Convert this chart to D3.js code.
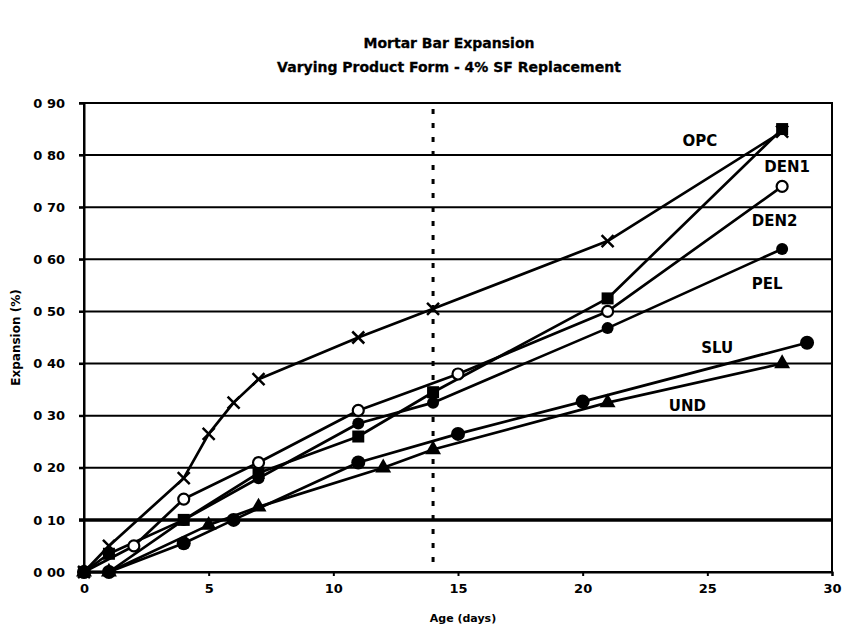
<!DOCTYPE html>
<html>
<head>
<meta charset="utf-8">
<script src="https://cdn.jsdelivr.net/npm/d3@7"></script>
<style>
  html, body { margin: 0; padding: 0; background: #fff; }
  svg text { font-family: "DejaVu Sans", "Liberation Sans", Arial, sans-serif; font-weight: bold; fill: #000; }
</style>
</head>
<body>
<svg id="chart" width="845" height="634"></svg>
<script>
// Mortar bar expansion, age in days vs expansion in %
const opcAge  = [0, 1, 4, 5, 6, 7, 11, 14, 21, 28];
const opcExp  = [0, 0.05, 0.18, 0.265, 0.325, 0.37, 0.45, 0.505, 0.635, 0.845];

const den1Age = [0, 1, 4, 7, 11, 14, 21, 28];
const den1Exp = [0, 0.035, 0.10, 0.19, 0.26, 0.345, 0.525, 0.85];

const den2Age = [0, 2, 4, 7, 11, 15, 21, 28];
const den2Exp = [0, 0.05, 0.14, 0.21, 0.31, 0.38, 0.50, 0.74];

const pelAge  = [0, 1, 4, 7, 11, 14, 21, 28];
const pelExp  = [0, 0, 0.10, 0.18, 0.285, 0.325, 0.468, 0.62];

const sluAge  = [0, 1, 4, 6, 11, 15, 20, 29];
const sluExp  = [0, 0, 0.055, 0.10, 0.21, 0.265, 0.327, 0.44];

const undAge  = [0, 1, 5, 7, 12, 14, 21, 28];
const undExp  = [0, 0, 0.09, 0.125, 0.20, 0.235, 0.325, 0.40];

const seriesNames   = ["OPC", "DEN1", "DEN2", "PEL", "SLU", "UND"];
const seriesMarkers = ["cross", "square", "openCircle", "dot", "bigDot", "triangle"];

// label anchor points (age, expansion) for the series names
const labelAge = [24.7, 28.2, 27.7, 27.4, 25.4, 24.2];
const labelExp = [0.826, 0.776, 0.672, 0.551, 0.428, 0.317];

const xTicks = [0, 5, 10, 15, 20, 25, 30];
const yTicks = [0, 0.1, 0.2, 0.3, 0.4, 0.5, 0.6, 0.7, 0.8, 0.9];
const yTickLabels = ["0 00", "0 10", "0 20", "0 30", "0 40", "0 50", "0 60", "0 70", "0 80", "0 90"];
const markerAge = 14;

const titleLines = ["Mortar Bar Expansion", "Varying Product Form - 4% SF Replacement"];
const xTitle = "Age (days)";
const yTitle = "Expansion (%)";

const series = [
  [opcAge, opcExp], [den1Age, den1Exp], [den2Age, den2Exp],
  [pelAge, pelExp], [sluAge, sluExp], [undAge, undExp]
].map(([a, e], i) => ({
  name: seriesNames[i],
  marker: seriesMarkers[i],
  points: a.map((d, j) => ({ x: d, y: e[j] }))
}));

const svg = d3.select("#chart");
const margin = { left: 84, right: 13, top: 103, bottom: 62 };
const W = 845, H = 634;

const x = d3.scaleLinear().domain([0, 30]).range([margin.left, W - margin.right]);
const y = d3.scaleLinear().domain([0, 0.9]).range([H - margin.bottom, margin.top]);

// title
svg.append("g").selectAll("text").data(titleLines).join("text")
  .attr("x", 449).attr("y", (d, i) => 48 + i * 24)
  .attr("text-anchor", "middle")
  .style("font-size", "14px")
  .style("stroke", "#000").style("stroke-width", 0.3)
  .text(d => d);

// horizontal grid lines
svg.append("g").selectAll("line").data(yTicks.slice(1)).join("line")
  .attr("x1", x(0) - 5).attr("x2", x(30))
  .attr("y1", d => y(d)).attr("y2", d => y(d))
  .attr("stroke", "#000")
  .attr("stroke-width", d => Math.abs(d - 0.1) < 1e-9 ? 3.5 : 2);

// plot frame
svg.append("rect")
  .attr("x", x(0)).attr("y", y(0.9))
  .attr("width", x(30) - x(0)).attr("height", y(0) - y(0.9))
  .attr("fill", "none").attr("stroke", "#000").attr("stroke-width", 2);

// y axis
const yAxis = d3.axisLeft(y).tickValues(yTicks)
  .tickFormat((d, i) => yTickLabels[i]).tickSize(5).tickPadding(14);
const gy = svg.append("g").attr("transform", `translate(${x(0)},0)`).call(yAxis);
gy.select(".domain").attr("stroke-width", 2);
gy.selectAll(".tick line").attr("stroke-width", 2);
gy.selectAll(".tick text").style("font-size", "13px")
  .style("font-family", "'DejaVu Sans', sans-serif").style("font-weight", "bold");

// x axis
const xAxis = d3.axisBottom(x).tickValues(xTicks).tickSize(4).tickPadding(8);
const gx = svg.append("g").attr("transform", `translate(0,${y(0)})`).call(xAxis);
gx.select(".domain").attr("stroke-width", 2);
gx.selectAll(".tick line").attr("stroke-width", 2);
gx.selectAll(".tick text").style("font-size", "13px")
  .style("font-family", "'DejaVu Sans', sans-serif").style("font-weight", "bold");

// axis titles
svg.append("text").attr("x", x(15.2)).attr("y", 622)
  .attr("text-anchor", "middle").style("font-size", "11px").text(xTitle);
svg.append("text")
  .attr("transform", `translate(20,${(y(0) + y(0.9)) / 2}) rotate(-90)`)
  .attr("text-anchor", "middle").style("font-size", "12px").text(yTitle);

// dotted reference line at 14 days
svg.append("line")
  .attr("x1", x(markerAge)).attr("x2", x(markerAge))
  .attr("y1", y(0.9) + 6).attr("y2", y(0))
  .attr("stroke", "#000").attr("stroke-width", 3)
  .attr("stroke-dasharray", "5,9");

// series lines
const line = d3.line().x(d => x(d.x)).y(d => y(d.y));
const gs = svg.append("g");
series.forEach(s => {
  gs.append("path").datum(s.points)
    .attr("d", line).attr("fill", "none")
    .attr("stroke", "#000").attr("stroke-width", 2.7)
    .attr("stroke-linejoin", "round");
});

// markers
function drawMarker(g, type) {
  switch (type) {
    case "cross":
      g.append("path").attr("d", "M-6,-6L6,6M-6,6L6,-6")
        .attr("stroke", "#000").attr("stroke-width", 2.5).attr("fill", "none");
      break;
    case "square":
      g.append("rect").attr("x", -6).attr("y", -6).attr("width", 12).attr("height", 12)
        .attr("fill", "#000");
      break;
    case "openCircle":
      g.append("circle").attr("r", 5.5).attr("fill", "#fff")
        .attr("stroke", "#000").attr("stroke-width", 2.2);
      break;
    case "dot":
      g.append("circle").attr("r", 6).attr("fill", "#000");
      break;
    case "bigDot":
      g.append("circle").attr("r", 7).attr("fill", "#000");
      break;
    case "triangle":
      g.append("path").attr("d", d3.symbol().type(d3.symbolTriangle).size(110)())
        .attr("fill", "#000");
      break;
  }
}
series.forEach(s => {
  s.points.forEach(p => {
    const g = gs.append("g").attr("transform", `translate(${x(p.x)},${y(p.y)})`);
    drawMarker(g, s.marker);
  });
});

// series names
svg.append("g").selectAll("text").data(seriesNames).join("text")
  .attr("x", (d, i) => x(labelAge[i]))
  .attr("y", (d, i) => y(labelExp[i]))
  .attr("text-anchor", "middle")
  .attr("dominant-baseline", "middle")
  .style("font-size", "15px")
  .text(d => d);
</script>
</body>
</html>
